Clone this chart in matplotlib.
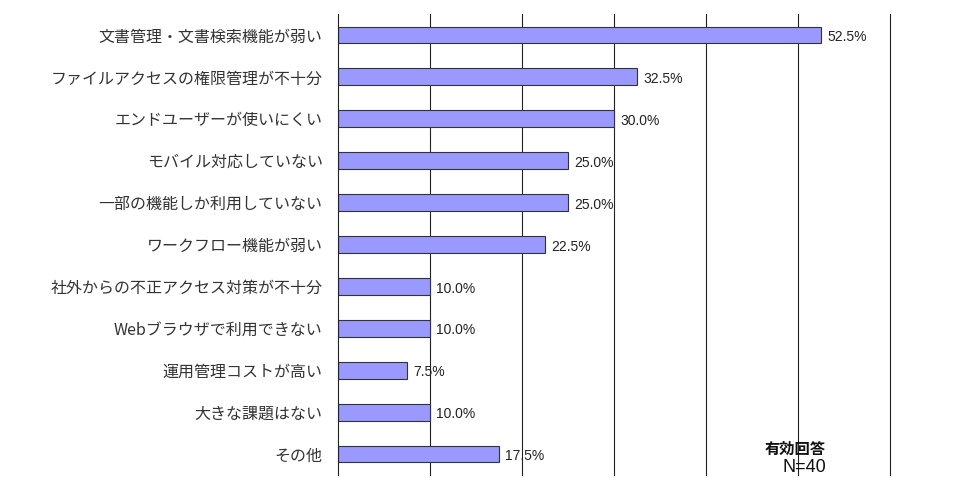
import matplotlib
matplotlib.use("Agg")
import matplotlib.pyplot as plt
import numpy as np

plt.rcParams['font.family'] = ['Noto Sans CJK JP', 'DejaVu Sans']

# ================= DATA =================
categories = [
    "文書管理・文書検索機能が弱い",
    "ファイルアクセスの権限管理が不十分",
    "エンドユーザーが使いにくい",
    "モバイル対応していない",
    "一部の機能しか利用していない",
    "ワークフロー機能が弱い",
    "社外からの不正アクセス対策が不十分",
    "Webブラウザで利用できない",
    "運用管理コストが高い",
    "大きな課題はない",
    "その他",
]
values = [52.5, 32.5, 30.0, 25.0, 25.0, 22.5, 10.0, 10.0, 7.5, 10.0, 17.5]
note_title = "有効回答"
note_n = "N=40"

# ================= PLOT =================
fig = plt.figure(figsize=(9.56, 4.93), dpi=100)
ax = fig.add_axes([338 / 956, 1 - 475 / 493, (890 - 338) / 956, (475 - 14) / 493])

y = np.arange(len(categories))
ax.barh(y, values, height=0.4, color='#9999FF', edgecolor='#333333', linewidth=0.8, zorder=2)

for yi, v in zip(y, values):
    ax.text(v + 0.7, yi + 0.05, f"{v:.1f}%", va='center', ha='left', fontsize=10,
            family='Liberation Sans', color='#222222', zorder=3)

ax.set_xlim(0, 60)
ax.set_ylim(len(categories) - 0.5, -0.5)
for gx in np.arange(10, 61, 10):
    ax.axvline(gx, color='#222222', linewidth=0.8, zorder=0, clip_on=False)
ax.set_xticks([])
ax.tick_params(axis='y', length=0, pad=11)
ax.set_yticks(y)
ax.set_yticklabels(categories, fontsize=11.5, color='#333333')
for s in ['top', 'right', 'bottom']:
    ax.spines[s].set_visible(False)
ax.spines['left'].set_color('#222222')
ax.spines['left'].set_linewidth(0.8)

fig.text(826 / 956, 1 - 449 / 493, note_title, ha='right', va='center', fontsize=11,
         fontweight='bold', color='#111111')
fig.text(826 / 956, 1 - 467 / 493, note_n, ha='right', va='center', fontsize=13,
         family='Liberation Sans', color='#111111')

fig.savefig("out.png", dpi=100)
